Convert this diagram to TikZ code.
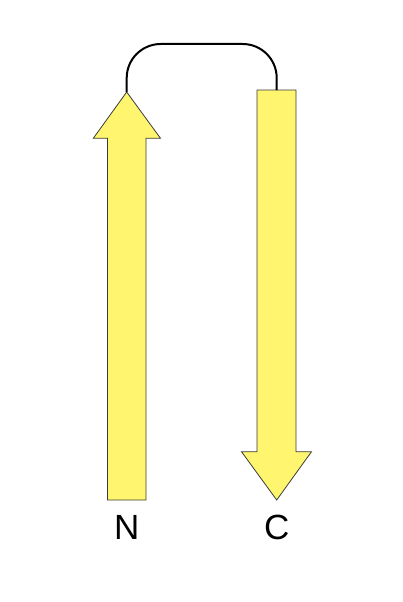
\documentclass[tikz,border=0pt]{standalone}
\usepackage{fontspec}
\setmainfont{Liberation Sans}
\definecolor{strandfill}{RGB}{255,245,110}
\definecolor{strandline}{RGB}{60,60,60}
\tikzset{
  strand/.style={fill=strandfill, draw=strandline, line width=0.8pt, line join=miter},
  loopline/.style={draw=black, line width=2pt, rounded corners=34pt},
  termlabel/.style={font=\fontsize{35}{40}\selectfont, inner sep=0pt}
}
\begin{document}
\begin{tikzpicture}[x=1pt,y=-1pt]
\useasboundingbox (0,0) rectangle (402,602);
% left strand (up)
\draw[strand] (107.5,500) -- (107.5,138.3) -- (93.3,138.3) -- (126.7,92) -- (160.5,138.3) -- (146,138.3) -- (146,500) -- cycle;
\coordinate (ltip) at (126.7,92);
% right strand (down)
\draw[strand] (257,90) -- (296,90) -- (296,451.7) -- (311.5,451.7) -- (276.7,500) -- (241.5,451.7) -- (257,451.7) -- cycle;
\coordinate (rtop) at (276.7,90);
% loop
\draw[loopline] (ltip) -- (ltip |- 0,44) -- (rtop |- 0,44) -- (rtop);
% labels
\node[termlabel] (N) at (126.7,527.5) {N};
\node[termlabel] (C) at (276.7,527.5) {C};
\end{tikzpicture}
\end{document}
